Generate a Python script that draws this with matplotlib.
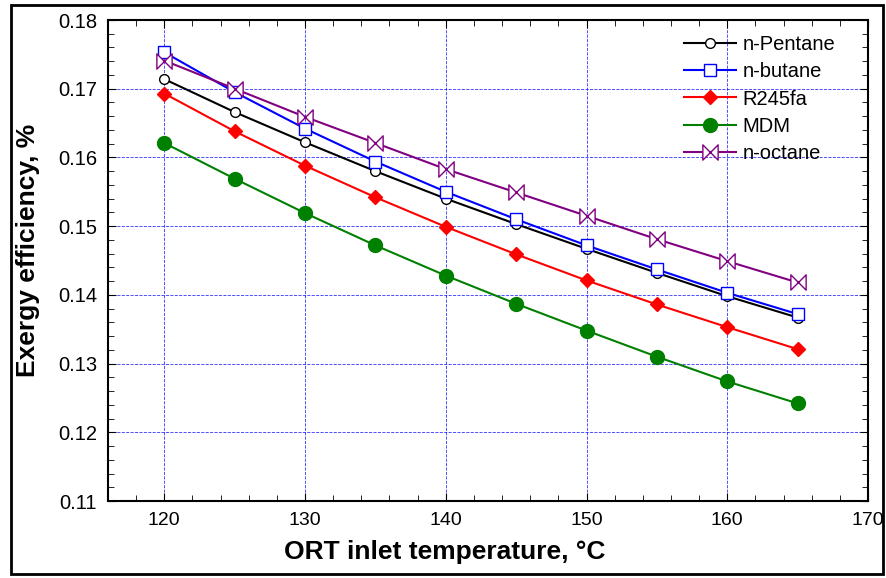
import matplotlib
matplotlib.use("Agg")
import matplotlib.pyplot as plt
from matplotlib.path import Path
from matplotlib.patches import Rectangle
from matplotlib.ticker import MultipleLocator

plt.rcParams['font.family'] = ['Liberation Sans', 'DejaVu Sans']

# Datos
temperatura = [120, 125, 130, 135, 140, 145, 150, 155, 160, 165]
n_pentane = [0.1714, 0.1666, 0.1622, 0.1580, 0.1540, 0.1503, 0.1467, 0.1432, 0.1398, 0.1367]
n_butane = [0.1753, 0.1695, 0.1642, 0.1594, 0.1550, 0.1510, 0.1472, 0.1437, 0.1403, 0.1372]
r245fa = [0.1693, 0.1638, 0.1588, 0.1542, 0.1499, 0.1459, 0.1421, 0.1386, 0.1353, 0.1321]
mdm = [0.1621, 0.1569, 0.1519, 0.1472, 0.1428, 0.1387, 0.1348, 0.1310, 0.1274, 0.1242]
n_octane = [0.1741, 0.1700, 0.1659, 0.1621, 0.1583, 0.1549, 0.1515, 0.1481, 0.1449, 0.1418]

# marcador tipo "bowtie"
bowtie = Path([(-1, 1), (1, -1), (1, 1), (-1, -1), (-1, 1)],
              [Path.MOVETO, Path.LINETO, Path.LINETO, Path.LINETO, Path.CLOSEPOLY])

fig = plt.figure(figsize=(8.86, 5.78), dpi=100)
ax = fig.add_axes([108 / 886, 1 - 501 / 578, (868 - 108) / 886, (501 - 20) / 578])

ax.plot(temperatura, n_pentane, color='black', lw=1.5, marker='o', ms=7,
        mfc='white', mec='black', mew=1, label='n-Pentane')
ax.plot(temperatura, n_butane, color='blue', lw=1.5, marker='s', ms=9,
        mfc='white', mec='blue', mew=1, label='n-butane')
ax.plot(temperatura, r245fa, color='red', lw=1.5, marker='D', ms=7.5,
        mfc='red', mec='red', label='R245fa')
ax.plot(temperatura, mdm, color='green', lw=1.5, marker='o', ms=10,
        mfc='green', mec='green', label='MDM')
ax.plot(temperatura, n_octane, color='purple', lw=1.5, marker=bowtie, ms=11,
        mfc='white', mec='purple', mew=1, label='n-octane')

ax.set_xlim(116, 170)
ax.set_ylim(0.11, 0.18)
ax.xaxis.set_major_locator(MultipleLocator(10))
ax.xaxis.set_minor_locator(MultipleLocator(2))
ax.yaxis.set_major_locator(MultipleLocator(0.01))
ax.yaxis.set_minor_locator(MultipleLocator(0.002))
ax.yaxis.set_major_formatter(matplotlib.ticker.FormatStrFormatter('%.2f'))
ax.tick_params(which='both', direction='in', top=True, right=True, pad=8)
ax.tick_params(axis='y', labelsize=14.5)
ax.tick_params(axis='x', labelsize=14)
ax.tick_params(which='major', length=6)
ax.tick_params(which='minor', length=4)
ax.grid(True, which='major', color='blue', linestyle='--', linewidth=0.6, alpha=0.8)
for s in ax.spines.values():
    s.set_linewidth(1.5)

ax.set_xlabel('ORT inlet temperature, °C', fontsize=19, fontweight='bold')
ax.set_ylabel('Exergy efficiency, %', fontsize=19, fontweight='bold')
ax.xaxis.set_label_coords(0.443, -0.082)
ax.yaxis.set_label_coords(-0.089, 0.522)

leg = ax.legend(loc='upper right', bbox_to_anchor=(0.962, 0.978), frameon=False,
                fontsize=14.5, handlelength=2.6, labelspacing=0.42, handletextpad=0.3,
                borderaxespad=0, borderpad=0.2)

# marco exterior de la figura
fig.patches.append(Rectangle((11 / 886, 1 - 574 / 578), (883 - 11) / 886, (574 - 5) / 578,
                             transform=fig.transFigure, fill=False, edgecolor='black',
                             linewidth=2))

fig.savefig('out.png', dpi=100)
